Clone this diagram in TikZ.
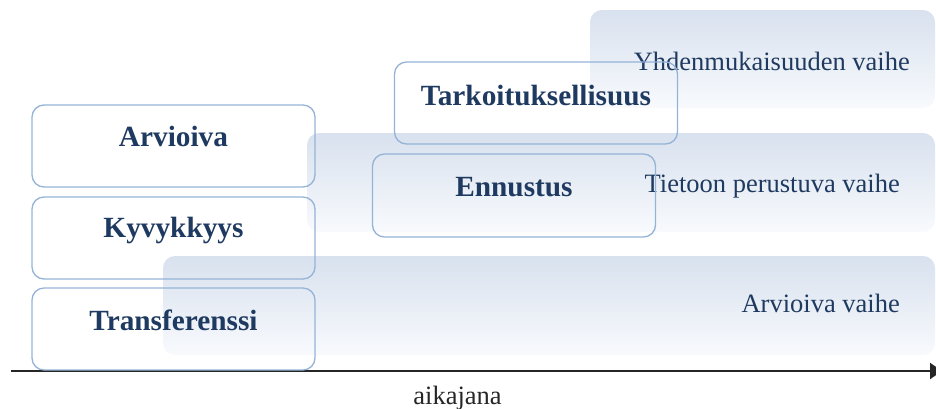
\documentclass[tikz,border=0pt]{standalone}
\usepackage{fontspec}
\setmainfont{Liberation Serif}
\usetikzlibrary{arrows.meta}
\definecolor{bandtop}{HTML}{D8E1EE}
\definecolor{bandbot}{HTML}{F8FAFD}
\definecolor{boxline}{HTML}{95B3D7}
\definecolor{navy}{HTML}{1F3A60}
\definecolor{axis}{HTML}{262626}
\tikzset{
  band/.style={inner sep=0pt, rounded corners=12pt, top color=bandtop, bottom color=bandbot, draw=none},
  phasebox/.style={inner sep=0pt, rounded corners=12pt, draw=boxline, line width=1.3pt, fill=none, minimum width=283pt, minimum height=82pt},
  boldtxt/.style={inner sep=0pt, text=navy, font=\fontsize{29.3}{32}\selectfont\bfseries},
  bandtxt/.style={inner sep=0pt, text=navy, font=\fontsize{26.5}{30}\selectfont},
  axislabel/.style={inner sep=0pt, text=axis, font=\fontsize{26.5}{30}\selectfont}
}
\begin{document}
\begin{tikzpicture}[x=1pt,y=-1pt]
\useasboundingbox (0,0) rectangle (936,408);
% bands
\node[band, minimum width=345pt, minimum height=98pt] (b1) at (762.5,59) {};
\node[band, minimum width=628pt, minimum height=99pt] (b2) at (621,182.5) {};
\node[band, minimum width=772pt, minimum height=99pt] (b3) at (549,305.5) {};
% band texts
\node[bandtxt, anchor=base east] (tb1) at (910,70) {Yhdenmukaisuuden vaihe};
\node[bandtxt, anchor=base east] (tb2) at (900,192) {Tietoon perustuva vaihe};
\node[bandtxt, anchor=base east] (tb3) at (900,312) {Arvioiva vaihe};
% axis
\coordinate (s) at (11,371);
\coordinate (e) at (942,371);
\draw[axis, line width=2.2pt, -{Triangle[length=12pt,width=16pt]}] (s) -- (e);
\node[axislabel, anchor=base] (tl) at (457.5,404) {aikajana};
% boxes
\node[phasebox] (a) at (173.5,146) {};
\node[phasebox] (k) at (173.5,238) {};
\node[phasebox] (t) at (173.5,329) {};
\node[phasebox] (ta) at (536,103) {};
\node[phasebox, minimum height=83pt] (en) at (514,195.5) {};
% box texts
\node[boldtxt, anchor=base] (ta1) at ([yshift=-42pt]a.north) {Arvioiva};
\node[boldtxt, anchor=base] (tk1) at ([yshift=-41pt]k.north) {Kyvykkyys};
\node[boldtxt, anchor=base] (tt1) at ([yshift=-43pt]t.north) {Transferenssi};
\node[boldtxt, anchor=base] (tta1) at ([yshift=-44pt]ta.north) {Tarkoituksellisuus};
\node[boldtxt, anchor=base] (ten1) at ([yshift=-43pt]en.north) {Ennustus};
\end{tikzpicture}
\end{document}
